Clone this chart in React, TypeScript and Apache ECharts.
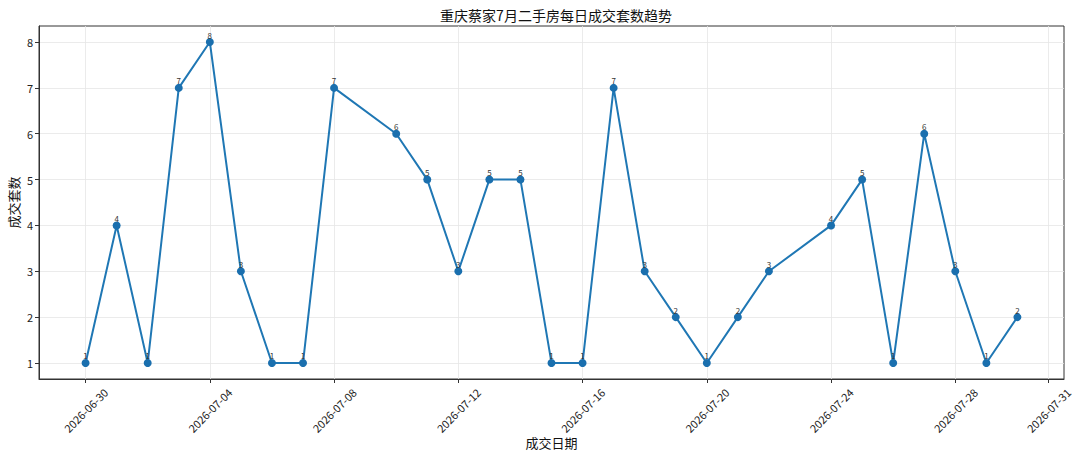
import React, { useEffect, useRef } from "react";
import * as echarts from "echarts";

const dates = [
  "2026-06-30", "2026-07-01", "2026-07-02", "2026-07-03", "2026-07-04", "2026-07-05",
  "2026-07-06", "2026-07-07", "2026-07-08", "2026-07-10", "2026-07-11", "2026-07-12",
  "2026-07-13", "2026-07-14", "2026-07-15", "2026-07-16", "2026-07-17", "2026-07-18",
  "2026-07-19", "2026-07-20", "2026-07-21", "2026-07-22", "2026-07-24", "2026-07-25",
  "2026-07-26", "2026-07-27", "2026-07-28", "2026-07-29", "2026-07-30",
];
const counts = [1, 4, 1, 7, 8, 3, 1, 1, 7, 6, 5, 3, 5, 5, 1, 1, 7, 3, 2, 1, 2, 3, 4, 5, 1, 6, 3, 1, 2];
const xTickLabels = [
  "2026-06-30", "2026-07-04", "2026-07-08", "2026-07-12", "2026-07-16",
  "2026-07-20", "2026-07-24", "2026-07-28", "2026-07-31",
];
const yTicks = [1, 2, 3, 4, 5, 6, 7, 8];

const DAY = 86400000;
const base = Date.UTC(2026, 5, 30);
const toDay = (s: string) => {
  const [y, m, d] = s.split("-").map(Number);
  return (Date.UTC(y, m - 1, d) - base) / DAY;
};
const fromDay = (v: number) => {
  const dt = new Date(base + Math.round(v) * DAY);
  const mm = String(dt.getUTCMonth() + 1).padStart(2, "0");
  const dd = String(dt.getUTCDate()).padStart(2, "0");
  return `${dt.getUTCFullYear()}-${mm}-${dd}`;
};

const FONT = "'Noto Sans CJK SC', 'DejaVu Sans', sans-serif";

export default function App() {
  const ref = useRef<HTMLDivElement>(null);
  useEffect(() => {
    if (!ref.current) return;
    const chart = echarts.init(ref.current, undefined, { renderer: "svg" });
    const xs = dates.map(toDay);
    const xTicks = xTickLabels.map(toDay);
    const span = xs[xs.length - 1] - xs[0];
    chart.setOption({
      animation: false,
      backgroundColor: "#ffffff",
      textStyle: { fontFamily: FONT },
      title: {
        text: "重庆蔡家7月二手房每日成交套数趋势",
        left: 551,
        textAlign: "center",
        top: 3,
        textStyle: { fontSize: 14, fontWeight: "normal", color: "#111", fontFamily: FONT },
      },
      grid: {
        left: 39,
        right: 16,
        top: 26,
        bottom: 80,
        containLabel: false,
        outerBoundsMode: "none",
        show: true,
        borderColor: "#333",
        borderWidth: 1,
        backgroundColor: "transparent",
      },
      xAxis: {
        type: "value",
        min: xs[0] - span * 0.05,
        max: xs[xs.length - 1] + span * 0.05,
        name: "成交日期",
        nameLocation: "middle",
        nameGap: 57,
        nameMoveOverlap: false,
        nameTextStyle: { fontSize: 13, color: "#111", fontFamily: FONT },
        axisLine: { show: true, onZero: false, lineStyle: { color: "#333", width: 1 } },
        axisTick: { show: true, length: 4, lineStyle: { color: "#333" }, customValues: xTicks },
        axisLabel: {
          rotate: 45,
          fontSize: 11,
          color: "#222",
          margin: 31,
          align: "center",
          verticalAlign: "middle",
          customValues: xTicks,
          formatter: (v: number) => fromDay(v),
          fontFamily: FONT,
        },
        splitLine: { show: true, lineStyle: { color: "#e6e6e6", width: 0.8 } },
      },
      yAxis: {
        type: "value",
        min: 0.65,
        max: 8.35,
        name: "成交套数",
        nameLocation: "middle",
        nameGap: 19,
        nameMoveOverlap: false,
        nameTextStyle: { fontSize: 13, color: "#111", fontFamily: FONT },
        axisLine: { show: true, onZero: false, lineStyle: { color: "#333", width: 1 } },
        axisTick: { show: true, length: 4, lineStyle: { color: "#333" }, customValues: yTicks },
        axisLabel: { fontSize: 11, color: "#222", margin: 6, customValues: yTicks, fontFamily: FONT },
        splitLine: { show: true, lineStyle: { color: "#e6e6e6", width: 0.8 } },
      },
      series: [
        {
          type: "line",
          data: xs.map((x, i) => [x, counts[i]]),
          symbol: "circle",
          symbolSize: 8,
          lineStyle: { color: "#1f77b4", width: 2 },
          itemStyle: { color: "#1a6fae" },
          label: {
            show: true,
            position: "top",
            distance: -1,
            fontSize: 8,
            color: "#333",
            fontFamily: FONT,
            formatter: (p: any) => String(p.value[1]),
          },
        },
      ],
    });
    return () => chart.dispose();
  }, []);
  return (
    <div
      ref={ref}
      style={{ position: "fixed", left: 0, top: 0, width: 1080, height: 459 }}
    />
  );
}
